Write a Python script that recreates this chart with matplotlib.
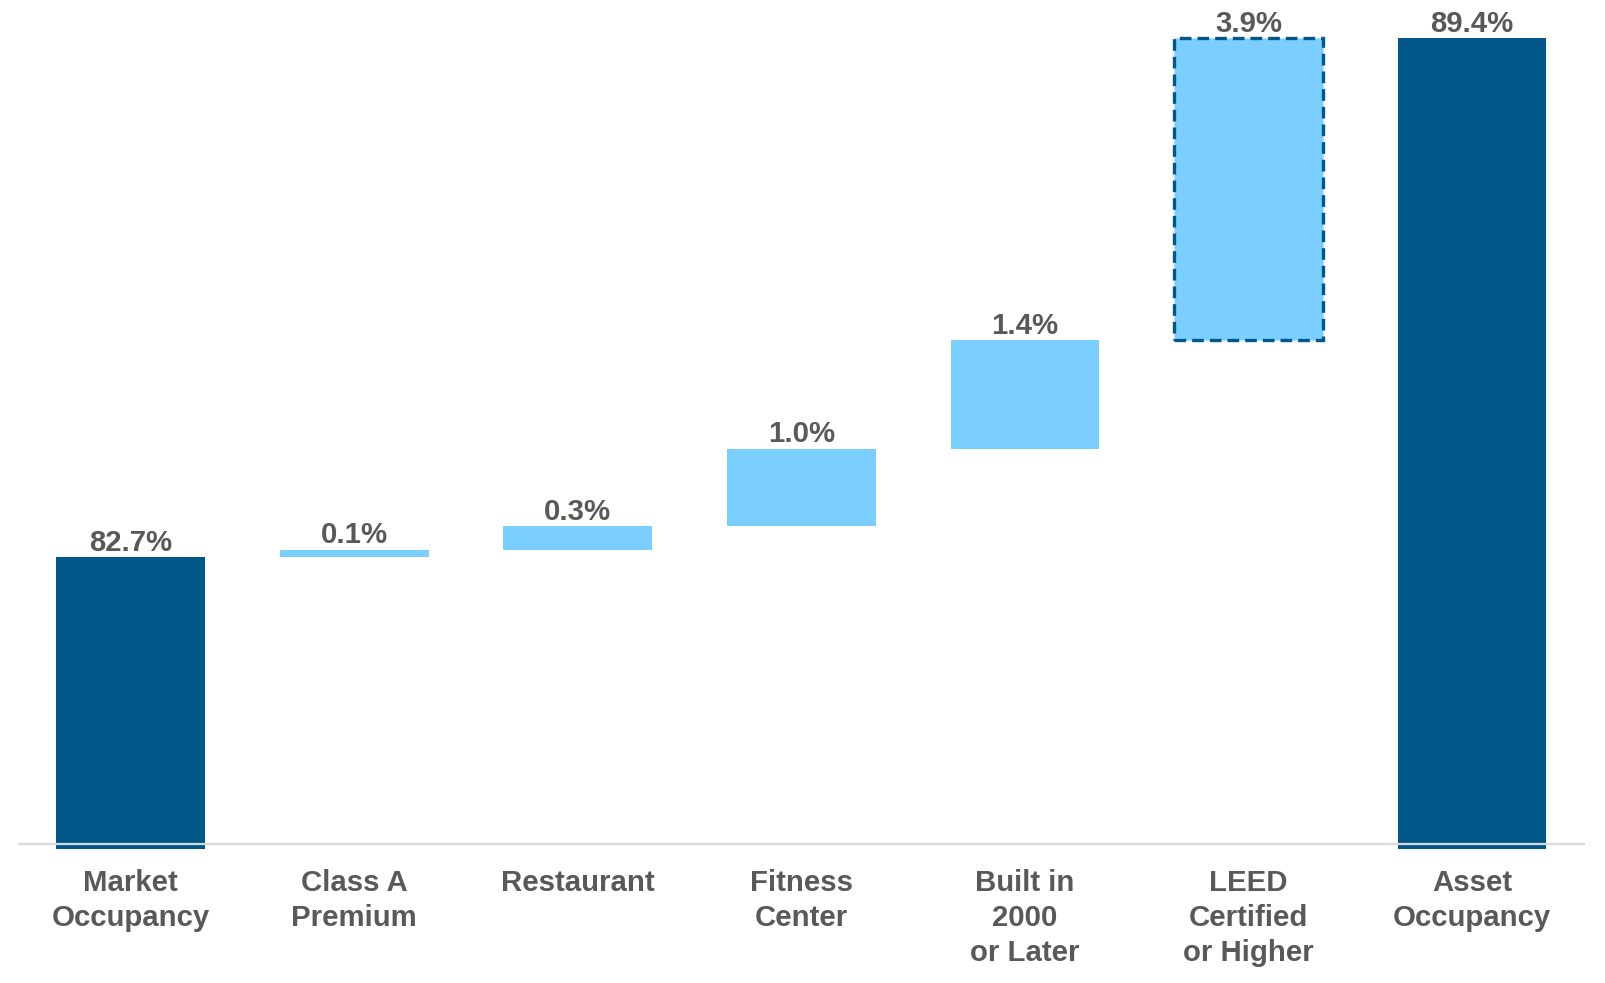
import matplotlib.pyplot as plt

categories = ["Market\nOccupancy", "Class A\nPremium", "Restaurant", "Fitness\nCenter",
              "Built in\n2000\nor Later", "LEED\nCertified\nor Higher", "Asset\nOccupancy"]
start_value = 82.7
steps = [0.1, 0.3, 1.0, 1.4, 3.9]
end_value = 89.4
y_floor = 79.0

DARK = "#00578A"
LIGHT = "#7ACFFF"
TEXT = "#595959"

plt.rcParams['font.family'] = ['Liberation Sans', 'DejaVu Sans']

fig = plt.figure(figsize=(16.05, 9.83), dpi=100)
ax = fig.add_axes([0.0118, 1 - 844 / 983, 0.9750, (844 - 7) / 983])

width = 0.665
x = list(range(len(categories)))
FS = 21.2

# totals: drawn a touch below the axis line, like the original
ax.bar(x[0], start_value - y_floor + 0.065, bottom=y_floor - 0.065, width=width,
       color=DARK, clip_on=False, zorder=2)
ax.bar(x[-1], end_value - y_floor + 0.065, bottom=y_floor - 0.065, width=width,
       color=DARK, clip_on=False, zorder=2)
ax.text(x[0], start_value + 0.005, f"{start_value:.1f}%", ha='center', va='bottom',
        fontsize=FS, fontweight='bold', color=TEXT)
ax.text(x[-1], end_value + 0.005, f"{end_value:.1f}%", ha='center', va='bottom',
        fontsize=FS, fontweight='bold', color=TEXT)

level = start_value
for i, s in enumerate(steps):
    xi = x[i + 1]
    last = i == len(steps) - 1
    if last:
        ax.bar(xi, s, bottom=level, width=width, color=LIGHT, edgecolor=DARK,
               linewidth=2.4, linestyle=(0, (3.5, 1.8)), zorder=2)
    else:
        ax.bar(xi, s, bottom=level, width=width, color=LIGHT, zorder=2)
    level += s
    ax.text(xi, level + 0.005, f"{s:.1f}%", ha='center', va='bottom',
            fontsize=FS, fontweight='bold', color=TEXT)

ax.set_xlim(-0.5, len(categories) - 0.5)
ax.set_ylim(y_floor, 89.8)
ax.set_xticks(x)
ax.set_xticklabels(categories, fontsize=FS, fontweight='bold', color=TEXT, linespacing=1.32)
ax.tick_params(axis='x', length=0, pad=18)
ax.set_yticks([])
for side in ['top', 'left', 'right']:
    ax.spines[side].set_visible(False)
ax.spines['bottom'].set_color('#D9D9D9')
ax.spines['bottom'].set_linewidth(1.6)
ax.spines['bottom'].set_zorder(3)

fig.savefig("out.png", dpi=100)
